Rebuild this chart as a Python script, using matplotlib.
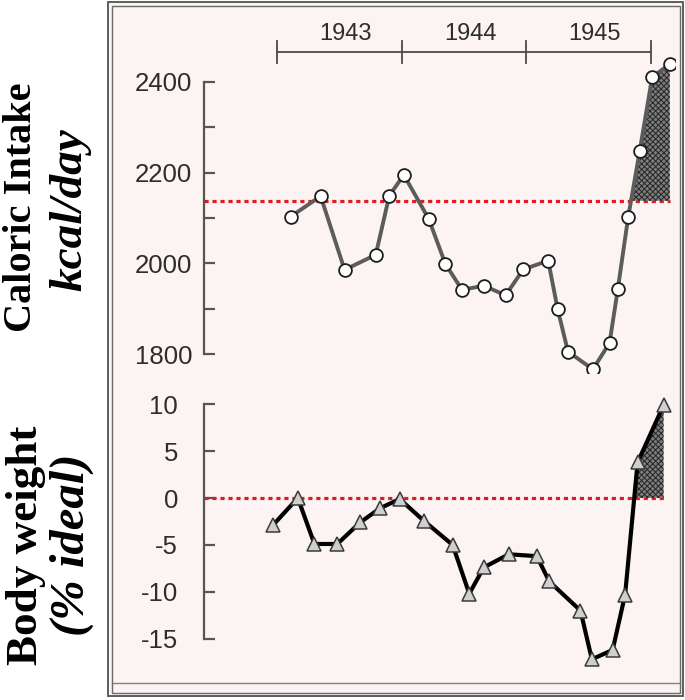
import numpy as np
import matplotlib
matplotlib.use("Agg")
import matplotlib.pyplot as plt
from matplotlib.patches import Rectangle
from matplotlib.lines import Line2D

# months counted from Jan 1943
cal_months = [1.3, 4.2, 6.5, 9.5, 10.8, 12.2, 14.6, 16.2, 17.8, 19.9, 22.0,
              23.7, 26.1, 27.0, 28.0, 30.4, 32.0, 32.8, 33.8, 34.9, 36.1, 37.8]
cal_values = [2103, 2148, 1986, 2019, 2149, 2195, 2098, 1999, 1942, 1951, 1930,
              1987, 2006, 1900, 1806, 1767, 1825, 1944, 2103, 2247, 2410, 2439]
cal_ref = 2138

wt_months = [-0.4, 2.0, 3.6, 5.8, 8.0, 9.9, 11.8, 14.1, 16.9, 18.5, 19.9,
             22.3, 25.0, 26.2, 29.2, 30.3, 32.3, 33.5, 34.7, 37.2]
wt_values = [-2.9, 0.0, -4.9, -4.9, -2.6, -1.1, -0.1, -2.4, -5.0, -10.2, -7.4,
             -6.0, -6.2, -8.9, -12.0, -17.2, -16.2, -10.3, 3.8, 9.9]
wt_ref = 0

years = ["1943", "1944", "1945"]
year_edges = [0, 12, 24, 36]

W, H = 685, 700
BG = "#fbf4f3"
RED = "#e3191f"
TXT = "#2d2d2d"
AX = "#555555"

plt.rcParams["hatch.linewidth"] = 0.7

fig = plt.figure(figsize=(W / 100, H / 100), dpi=100)
fig.patch.set_facecolor("white")


def px_box(x0, y0, x1, y1):
    # pixel box (top-left origin) -> figure fraction [l, b, w, h]
    return [x0 / W, 1 - y1 / H, (x1 - x0) / W, (y1 - y0) / H]


# panel background and double frame (behind the axes)
fig.patches.append(Rectangle((108 / W, 1 - 696 / H), 575 / W, 694 / H,
                             transform=fig.transFigure, facecolor=BG,
                             edgecolor="#5e5e5e", lw=1.4, zorder=-2))
fig.patches.append(Rectangle((111.5 / W, 1 - 692.5 / H), 568 / W, 687 / H,
                             transform=fig.transFigure, facecolor="none",
                             edgecolor="#6a6a6a", lw=1.0, zorder=-1))
fig.lines.append(Line2D([111.5 / W, 679.5 / W], [1 - 683 / H, 1 - 683 / H],
                        transform=fig.transFigure, color="#7a8490", lw=1.0,
                        zorder=-1))

xlim = (-7.0, 38.3)
ax1 = fig.add_axes(px_box(204.3, 36.3, 675, 372.5))
ax2 = fig.add_axes(px_box(204.3, 394.9, 675, 666.8))

for ax in (ax1, ax2):
    ax.set_facecolor("none")
    ax.set_xlim(*xlim)
    for s in ("top", "right", "bottom"):
        ax.spines[s].set_visible(False)
    ax.spines["left"].set_color(AX)
    ax.spines["left"].set_linewidth(1.6)
    ax.xaxis.set_visible(False)
    ax.tick_params(axis="y", which="both", direction="in", length=8,
                   width=1.6, color=AX, labelcolor=TXT, labelsize=18.5)

# ---- caloric intake panel ----
ax1.set_ylim(1760, 2500)
ax1.spines["left"].set_bounds(1800, 2400)
ax1.set_yticks([1800, 2000, 2200, 2400])
ax1.set_yticks([1900, 2100, 2300], minor=True)
ax1.tick_params(axis="y", which="major", pad=8.5)
ax1.set_yticklabels([str(v) for v in [1800, 2000, 2200, 2400]],
                    family="Liberation Sans")

cm = np.array(cal_months)
cv = np.array(cal_values)
ax1.plot([xlim[0], cm[-1]], [cal_ref, cal_ref], color=RED, lw=2.3,
         ls=(0, (1.3, 1.2)), zorder=2)
mask = (np.arange(len(cv)) >= 18) & (cv >= cal_ref)
ax1.fill_between(cm, cv, cal_ref, where=mask, interpolate=True,
                 facecolor="#7e7e7e", edgecolor="#262626", hatch="xxxxxx",
                 lw=0, zorder=3)
ax1.plot(cm, cv, color="#5c5c5c", lw=2.8, zorder=4, marker="o", ms=9.2,
         mfc="white", mec="#1e1e1e", mew=1.3)

# year bar
ax1.plot([year_edges[0], year_edges[-1]], [2465, 2465], color="#4a4a4a",
         lw=1.3, clip_on=False)
for e in year_edges:
    ax1.plot([e, e], [2441, 2489], color="#4a4a4a", lw=1.3, clip_on=False)
for i, y in enumerate(years):
    ax1.text((year_edges[i] + year_edges[i + 1]) / 2 + 0.6, 2492, y,
             ha="center", va="baseline", fontsize=17, color=TXT,
             family="Liberation Sans")

# ---- body weight panel ----
ax2.set_ylim(-18, 11)
ax2.spines["left"].set_bounds(-15, 10)
wt_ticks = [-15, -10, -5, 0, 5, 10]
ax2.set_yticks(wt_ticks)
ax2.set_yticklabels([str(v) for v in wt_ticks], family="Liberation Sans")
ax2.tick_params(axis="y", which="major", pad=19)

wm = np.array(wt_months)
wv = np.array(wt_values)
ax2.plot([xlim[0], wm[-1]], [wt_ref, wt_ref], color=RED, lw=2.3,
         ls=(0, (1.3, 1.2)), zorder=2)
mask2 = (np.arange(len(wv)) >= 17) & (wv >= wt_ref)
ax2.fill_between(wm, wv, wt_ref, where=mask2, interpolate=True,
                 facecolor="#7e7e7e", edgecolor="#262626", hatch="xxxxxx",
                 lw=0, zorder=3)
ax2.plot(wm, wv, color="black", lw=3.0, zorder=4, marker="^", ms=10.5,
         mfc="#cfcfcf", mec="#3a3a3a", mew=1.1)

# ---- side labels ----
serif = "Liberation Serif"
fig.text(22 / W, 1 - 207 / H, "Caloric Intake", rotation=90, ha="center",
         va="center", fontsize=29, fontweight="bold", family=serif)
fig.text(70 / W, 1 - 210 / H, "kcal/day", rotation=90, ha="center",
         va="center", fontsize=34, fontweight="bold", style="italic",
         family=serif)
fig.text(26 / W, 1 - 545 / H, "Body weight", rotation=90, ha="center",
         va="center", fontsize=32.5, fontweight="bold", family=serif)
fig.text(72 / W, 1 - 545 / H, "(% ideal)", rotation=90, ha="center",
         va="center", fontsize=35, fontweight="bold", style="italic",
         family=serif)

fig.savefig("out.png", dpi=100, facecolor=fig.get_facecolor())
